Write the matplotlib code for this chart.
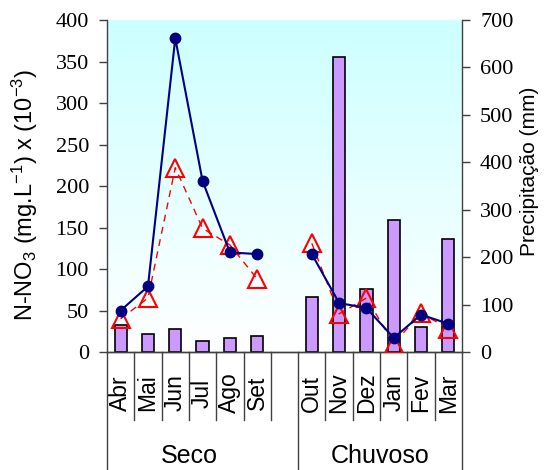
import matplotlib
matplotlib.use("Agg")
import matplotlib.pyplot as plt
import matplotlib.transforms as mtransforms
import numpy as np

months = ["Abr", "Mai", "Jun", "Jul", "Ago", "Set", "", "Out", "Nov", "Dez", "Jan", "Fev", "Mar"]
seasons = ["Seco", "Chuvoso"]
# values per slot (None for the empty slot between seasons)
nitrate_a = [50, 79, 378, 206, 120, 118, None, 118, 59, 53, 17, 45, 34]     # filled circles
nitrate_b = [40, 65, 222, 149, 129, 88, None, 131, 46, 65, 10, 47, 28]      # open triangles
precip = [57, 38, 48, 23, 30, 34, None, 117, 621, 132, 278, 52, 238]        # bars (mm)
left_ticks = [0, 50, 100, 150, 200, 250, 300, 350, 400]
right_ticks = [0, 100, 200, 300, 400, 500, 600, 700]

SANS = ['Liberation Sans', 'DejaVu Sans']
plt.rcParams['font.family'] = ['Liberation Serif', 'DejaVu Serif']
plt.rcParams['mathtext.fontset'] = 'custom'
plt.rcParams['mathtext.rm'] = 'Liberation Sans'
plt.rcParams['mathtext.it'] = 'Liberation Sans:italic'

W, H = 545, 470
fig = plt.figure(figsize=(W / 100, H / 100), dpi=100)
L, R, T, B = 107, 462, 20, 352
ax = fig.add_axes([L / W, (H - B) / H, (R - L) / W, (B - T) / H])
ax2 = ax.twinx()

x = np.arange(len(months))

# gradient background
grad = np.linspace(0, 1, 256).reshape(-1, 1)
top = np.array([0.80, 1.0, 1.0])
bot = np.array([1.0, 1.0, 1.0])
img = bot + (top - bot) * grad[::-1]
img = np.repeat(img[:, None, :], 2, axis=1)
ax.imshow(img, extent=[0, 1, 0, 1], transform=ax.transAxes, aspect='auto', zorder=0)
ax.patch.set_visible(False)

# bars on main ax (right scale)
px = [xi for xi, v in zip(x, precip) if v is not None]
pv = [v for v in precip if v is not None]
ax.bar(px, pv, width=0.45, color='#CC99FF', edgecolor='black', linewidth=1.2, zorder=2)
ax.set_ylim(0, 700)
ax.set_xlim(-0.5, len(months) - 0.5)

# lines on ax2 (left scale)
def seg(vals):
    xs = [xi for xi, v in zip(x, vals) if v is not None]
    vs = [v for v in vals if v is not None]
    return xs, vs

xs, vs = seg(nitrate_b)
for a, b in ((0, 6), (6, 12)):
    ax2.plot(xs[a:b], vs[a:b], color='#FF0000', lw=1.0, ls=(0, (5, 4)), marker='^', ms=13,
             mfc='none', mec='#FF0000', mew=1.5, zorder=3)
xs, vs = seg(nitrate_a)
for a, b in ((0, 6), (6, 12)):
    ax2.plot(xs[a:b], vs[a:b], color='#000080', lw=1.5, marker='o', ms=7.5, mfc='#000080',
             mec='#000080', zorder=4)
ax2.set_ylim(0, 400)

# axis sides
ax.yaxis.tick_right()
ax.yaxis.set_label_position('right')
ax2.yaxis.tick_left()
ax2.yaxis.set_label_position('left')

ax.set_yticks(right_ticks)
ax2.set_yticks(left_ticks)
for a in (ax, ax2):
    a.set_xticks([])
    a.spines['top'].set_visible(False)
    for s in a.spines.values():
        s.set_color('#404040')
        s.set_linewidth(1.0)
    a.tick_params(axis='y', direction='out', length=6, width=1.0, color='#404040',
                  labelsize=16, pad=7, labelfontfamily='Liberation Serif')
ax.spines['left'].set_visible(False)
ax2.spines['right'].set_visible(False)
ax2.spines['left'].set_visible(True)
ax.spines['right'].set_visible(True)

ax2.set_ylabel(r'N-NO$_3$ (mg.L$^{-1}$) x (10$^{-3}$)', fontsize=17, family=SANS)
ax.set_ylabel('Precipitação (mm)', fontsize=15, family=SANS)
ax2.yaxis.set_label_coords(-0.19, 0.473)
ax.yaxis.set_label_coords(1.163, 0.544)

# category labels and separators
trans = mtransforms.blended_transform_factory(ax.transData, ax.transAxes)
h = B - T
y_month = (B - 393) / h
y_short = (B - 420) / h
y_long = (B - 470) / h
y_season = (B - 456) / h
for xi, m in zip(x, months):
    if m:
        ax.text(xi, y_month, m, rotation=90, ha='center', va='center', fontsize=16.5,
                transform=trans, clip_on=False, family=SANS)
for i in range(len(months) + 1):
    bx = i - 0.5
    long = i in (0, 7, len(months))
    ax.plot([bx, bx], [0, y_long if long else y_short], transform=trans, color='#404040',
            lw=1.0, clip_on=False, zorder=5)
ax.text(2.5, y_season, seasons[0], ha='center', va='center', fontsize=18, transform=trans,
        family=SANS)
ax.text(9.5, y_season, seasons[1], ha='center', va='center', fontsize=18, transform=trans,
        family=SANS)

fig.savefig('out.png', dpi=100)
